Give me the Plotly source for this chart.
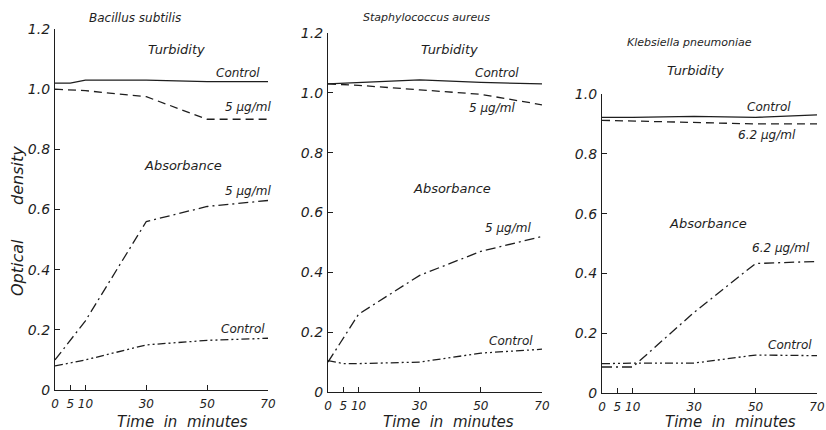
import plotly.graph_objects as go

# ---------------- data ----------------
panel_titles = ["Bacillus subtilis", "Staphylococcus aureus", "Klebsiella pneumoniae"]
x_tick_vals = [0, 5, 10, 30, 50, 70]
x_tick_text = ["0", "5", "10", "30", "50", "70"]
y_tick_vals_12 = [0, 0.2, 0.4, 0.6, 0.8, 1.0, 1.2]
y_tick_text_12 = ["0", "0.2", "0.4", "0.6", "0.8", "1.0", "1.2"]
y_tick_vals_10 = [0, 0.2, 0.4, 0.6, 0.8, 1.0]
y_tick_text_10 = ["0", "0.2", "0.4", "0.6", "0.8", "1.0"]

# Bacillus subtilis
bs_turb_ctrl_t = [0, 5, 10, 30, 50, 70]
bs_turb_ctrl = [1.02, 1.02, 1.03, 1.03, 1.025, 1.025]
bs_turb_drug_t = [0, 10, 30, 50, 70]
bs_turb_drug = [1.0, 0.995, 0.975, 0.90, 0.90]
bs_abs_drug_t = [0, 10, 30, 50, 70]
bs_abs_drug = [0.10, 0.23, 0.56, 0.61, 0.63]
bs_abs_ctrl_t = [0, 10, 30, 50, 70]
bs_abs_ctrl = [0.08, 0.10, 0.15, 0.165, 0.172]

# Staphylococcus aureus
sa_turb_ctrl_t = [0, 10, 30, 50, 70]
sa_turb_ctrl = [1.03, 1.035, 1.043, 1.035, 1.03]
sa_turb_drug_t = [0, 10, 30, 50, 70]
sa_turb_drug = [1.03, 1.025, 1.01, 0.995, 0.96]
sa_abs_drug_t = [0, 5, 10, 30, 50, 70]
sa_abs_drug = [0.10, 0.18, 0.26, 0.39, 0.47, 0.52]
sa_abs_ctrl_t = [0, 5, 10, 30, 50, 70]
sa_abs_ctrl = [0.105, 0.095, 0.095, 0.10, 0.13, 0.143]

# Klebsiella pneumoniae
kp_turb_ctrl_t = [0, 10, 30, 50, 70]
kp_turb_ctrl = [0.922, 0.922, 0.925, 0.922, 0.93]
kp_turb_drug_t = [0, 10, 30, 50, 70]
kp_turb_drug = [0.912, 0.91, 0.905, 0.90, 0.90]
kp_abs_drug_t = [0, 10, 30, 50, 70]
kp_abs_drug = [0.087, 0.087, 0.27, 0.433, 0.44]
kp_abs_ctrl_t = [0, 10, 30, 50, 70]
kp_abs_ctrl = [0.098, 0.10, 0.10, 0.127, 0.125]

x_title = "Time\u00a0 in\u00a0 minutes"

# ---------------- styling ----------------
W, H = 826, 430
INK = "#1e1e1e"
FONT = "DejaVu Sans"
LW = 1.3
DASH_SOLID = "solid"
DASH_DASH = "8px,5px"
DASH_DOT = "10px,4px,2px,4px"
DASH_DDOT = "8px,3px,2px,3px,2px,3px"

def px_x(x):
    return x / W

def px_y(y):
    return 1 - y / H

fig = go.Figure()

panels = [
    (bs_turb_ctrl_t, bs_turb_ctrl, bs_turb_drug_t, bs_turb_drug,
     bs_abs_drug_t, bs_abs_drug, bs_abs_ctrl_t, bs_abs_ctrl),
    (sa_turb_ctrl_t, sa_turb_ctrl, sa_turb_drug_t, sa_turb_drug,
     sa_abs_drug_t, sa_abs_drug, sa_abs_ctrl_t, sa_abs_ctrl),
    (kp_turb_ctrl_t, kp_turb_ctrl, kp_turb_drug_t, kp_turb_drug,
     kp_abs_drug_t, kp_abs_drug, kp_abs_ctrl_t, kp_abs_ctrl),
]

for i, p in enumerate(panels):
    xa = "x" if i == 0 else f"x{i+1}"
    ya = "y" if i == 0 else f"y{i+1}"
    styles = [DASH_SOLID, DASH_DASH, DASH_DOT, DASH_DDOT]
    for k in range(4):
        fig.add_trace(go.Scatter(
            x=p[2 * k], y=p[2 * k + 1], mode="lines",
            line=dict(color=INK, width=LW, dash=styles[k]),
            xaxis=xa, yaxis=ya, showlegend=False, hoverinfo="skip"))

# axis geometry (pixels)
geo = [
    dict(x0=55, x1=268, y0=390, y1=29, ymax=1.2),
    dict(x0=328, x1=542, y0=392, y1=33, ymax=1.2),
    dict(x0=602, x1=817, y0=393, y1=94, ymax=1.0),
]

layout = dict(
    width=W, height=H,
    margin=dict(l=0, r=0, t=0, b=0, autoexpand=False),
    paper_bgcolor="white", plot_bgcolor="white",
    showlegend=False,
)

for i, g in enumerate(geo):
    sfx = "" if i == 0 else str(i + 1)
    yv = y_tick_vals_12 if g["ymax"] > 1.1 else y_tick_vals_10
    yt = y_tick_text_12 if g["ymax"] > 1.1 else y_tick_text_10
    layout["xaxis" + sfx] = dict(
        domain=[px_x(g["x0"]), px_x(g["x1"])], range=[0, 70],
        anchor="y" + sfx, showgrid=False, zeroline=False, automargin=False,
        showline=True, linecolor=INK, linewidth=1.2,
        ticks="inside", ticklen=5, tickcolor=INK, tickwidth=1.2,
        tickvals=x_tick_vals, ticktext=x_tick_text, tickangle=0,
        ticklabelstandoff=2,
        tickfont=dict(family=FONT, size=12, color=INK, style="italic"),
        fixedrange=True,
    )
    layout["yaxis" + sfx] = dict(
        domain=[px_y(g["y0"]), px_y(g["y1"])], range=[0, g["ymax"]],
        anchor="x" + sfx, showgrid=False, zeroline=False, automargin=False,
        showline=True, linecolor=INK, linewidth=1.2,
        ticks="inside", ticklen=5, tickcolor=INK, tickwidth=1.2,
        tickvals=yv, ticktext=yt, ticklabelstandoff=1,
        tickfont=dict(family=FONT, size=14, color=INK, style="italic"),
        fixedrange=True,
    )

fig.update_layout(**layout)

def note(text, x, y, size=12, angle=0):
    fig.add_annotation(
        text=text, x=px_x(x), y=px_y(y), xref="paper", yref="paper",
        xanchor="center", yanchor="middle", showarrow=False, textangle=angle,
        borderpad=0,
        font=dict(family=FONT, size=size, color=INK, style="italic"))

# panel 1
note(panel_titles[0], 135, 18, 12)
note("Turbidity", 176, 49, 13)
note("Control", 238, 73, 12)
note("5 µg/ml", 248, 107, 12)
note("Absorbance", 183, 165, 13)
note("5 µg/ml", 248, 191, 12)
note("Control", 243, 329, 12)
note(x_title, 182, 421.5, 15)
note("density", 17, 176, 16, -90)
note("Optical", 17, 268, 16, -90)

# panel 2
note(panel_titles[1], 426, 17, 11)
note("Turbidity", 449, 49, 13)
note("Control", 497, 73, 12)
note("5 µg/ml", 492, 108, 12)
note("Absorbance", 452, 188, 13)
note("5 µg/ml", 508, 228, 12)
note("Control", 511, 341, 12)
note(x_title, 448, 421.5, 15)

# panel 3
note(panel_titles[2], 689, 43, 11)
note("Turbidity", 695, 70, 13)
note("Control", 769, 107, 12)
note("6.2 µg/ml", 767, 135, 12)
note("Absorbance", 708, 223, 13)
note("6.2 µg/ml", 781, 248, 12)
note("Control", 790, 345, 12)
note(x_title, 730, 421.5, 15)

fig.write_html("out.html")
